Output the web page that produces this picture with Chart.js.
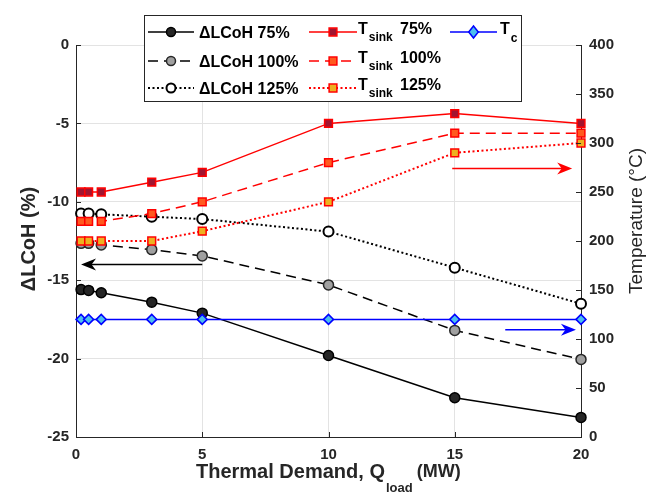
<!DOCTYPE html>
<html>
<head>
<meta charset="utf-8">
<script src="https://cdn.jsdelivr.net/npm/chart.js@4/dist/chart.umd.min.js"></script>
<style>
html,body{margin:0;padding:0;background:#fff;}
#wrap{width:655px;height:494px;position:relative;}
</style>
</head>
<body>
<div id="wrap"><canvas id="c" width="655" height="494"></canvas></div>
<script>
// ---- data ----
const xLoad = [0.2, 0.5, 1, 3, 5, 10, 15, 20];
const dLCoH75  = [-15.6, -15.65, -15.8, -16.4, -17.1, -19.8, -22.5, -23.75];
const dLCoH100 = [-12.65, -12.65, -12.75, -13.05, -13.45, -15.3, -18.2, -20.05];
const dLCoH125 = [-10.75, -10.75, -10.8, -10.95, -11.1, -11.9, -14.2, -16.5];
const tSink75  = [250, 250, 250, 260, 270, 320, 330, 320];
const tSink100 = [220, 220, 220, 228, 240, 280, 310, 310];
const tSink125 = [200, 200, 200, 200, 210, 240, 290, 300];
const tC       = [120, 120, 120, 120, 120, 120, 120, 120];
const xTicks = [0, 5, 10, 15, 20];
const yLeftTicks = [0, -5, -10, -15, -20, -25];
const yRightTicks = [0, 50, 100, 150, 200, 250, 300, 350, 400];
// arrows
const arrowAxis  = ['y', 'y1', 'y1'];
const arrowY     = [-14, 274, 109.5];
const arrowXFrom = [5, 14.9, 17];
const arrowXTo   = [0.2, 19.65, 19.8];
const arrowColor = ['#000000', '#ff0000', '#0000ff'];

const pts = (ys) => xLoad.map((x, i) => ({x: x, y: ys[i]}));
const AX = '#262626';
const FONT = 'Liberation Sans, Arial, sans-serif';

const datasets = [
  {label:'T_c', data: pts(tC), yAxisID:'y1', borderColor:'#0000ff', borderWidth:1.5,
   pointStyle:'rectRot', pointRadius:5, pointBackgroundColor:'#4dbeee', pointBorderColor:'#0000ff', pointBorderWidth:1.5},
  {label:'Tsink 75%', data: pts(tSink75), yAxisID:'y1', borderColor:'#ff0000', borderWidth:1.5,
   pointStyle:'rect', pointRadius:5.5, pointBackgroundColor:'#a2142f', pointBorderColor:'#ff0000', pointBorderWidth:1.5},
  {label:'Tsink 100%', data: pts(tSink100), yAxisID:'y1', borderColor:'#ff0000', borderWidth:1.5, borderDash:[10,6],
   pointStyle:'rect', pointRadius:5.5, pointBackgroundColor:'#ff5a1f', pointBorderColor:'#ff0000', pointBorderWidth:1.5},
  {label:'Tsink 125%', data: pts(tSink125), yAxisID:'y1', borderColor:'#ff0000', borderWidth:2, borderDash:[2,2.5],
   pointStyle:'rect', pointRadius:5.5, pointBackgroundColor:'#edb120', pointBorderColor:'#ff0000', pointBorderWidth:1.5},
  {label:'dLCoH 75%', data: pts(dLCoH75), yAxisID:'y', borderColor:'#000000', borderWidth:1.5,
   pointStyle:'circle', pointRadius:5, pointBackgroundColor:'#262626', pointBorderColor:'#000000', pointBorderWidth:1.5},
  {label:'dLCoH 100%', data: pts(dLCoH100), yAxisID:'y', borderColor:'#000000', borderWidth:1.5, borderDash:[10,6],
   pointStyle:'circle', pointRadius:5, pointBackgroundColor:'#a0a0a0', pointBorderColor:'#262626', pointBorderWidth:1.5},
  {label:'dLCoH 125%', data: pts(dLCoH125), yAxisID:'y', borderColor:'#000000', borderWidth:2, borderDash:[2,2.5],
   pointStyle:'circle', pointRadius:5, pointBackgroundColor:'#ffffff', pointBorderColor:'#000000', pointBorderWidth:2}
];
datasets.forEach(d => { d.clip = false; d.tension = 0; d.fill = false; });

function drawMarker(ctx, style, x, y, r, fill, stroke, lw) {
  ctx.save();
  ctx.beginPath();
  if (style === 'circle') ctx.arc(x, y, r, 0, Math.PI*2);
  else if (style === 'rect') { const s = r*Math.SQRT1_2; ctx.rect(x-s, y-s, 2*s, 2*s); }
  else { ctx.moveTo(x, y-r); ctx.lineTo(x+r*0.8, y); ctx.lineTo(x, y+r); ctx.lineTo(x-r*0.8, y); ctx.closePath(); }
  ctx.fillStyle = fill; ctx.fill();
  ctx.lineWidth = lw; ctx.strokeStyle = stroke; ctx.setLineDash([]); ctx.stroke();
  ctx.restore();
}

const extras = {
  id: 'extras',
  afterDraw(chart) {
    const ctx = chart.ctx, ca = chart.chartArea;
    const sx = chart.scales.x;
    ctx.save();
    // inward ticks
    ctx.strokeStyle = AX; ctx.lineWidth = 1;
    ctx.beginPath();
    xTicks.forEach(v => { const p = Math.round(sx.getPixelForValue(v)) + 0.5; ctx.moveTo(p, ca.bottom); ctx.lineTo(p, ca.bottom - 5); });
    yLeftTicks.forEach(v => { const p = Math.round(chart.scales.y.getPixelForValue(v)) + 0.5; ctx.moveTo(ca.left, p); ctx.lineTo(ca.left + 5, p); });
    yRightTicks.forEach(v => { const p = Math.round(chart.scales.y1.getPixelForValue(v)) + 0.5; ctx.moveTo(ca.right, p); ctx.lineTo(ca.right - 5, p); });
    ctx.stroke();

    // arrows
    arrowY.forEach((yv, i) => {
      const ys = chart.scales[arrowAxis[i]];
      const py = ys.getPixelForValue(yv);
      const x0 = sx.getPixelForValue(arrowXFrom[i]), x1 = sx.getPixelForValue(arrowXTo[i]);
      const dir = Math.sign(x1 - x0), hl = 15, hw = 6;
      ctx.strokeStyle = arrowColor[i]; ctx.fillStyle = arrowColor[i]; ctx.lineWidth = 1.5; ctx.setLineDash([]);
      ctx.beginPath(); ctx.moveTo(x0, py); ctx.lineTo(x1 - dir*hl*0.6, py); ctx.stroke();
      ctx.beginPath(); ctx.moveTo(x1, py); ctx.lineTo(x1 - dir*hl, py - hw); ctx.lineTo(x1 - dir*hl*0.7, py); ctx.lineTo(x1 - dir*hl, py + hw); ctx.closePath(); ctx.fill();
    });

    // axis titles
    ctx.fillStyle = AX; ctx.textBaseline = 'alphabetic';
    const big = 'bold 20px ' + FONT, sub = 'bold 13px ' + FONT;
    // x title
    ctx.font = big; const a = 'Thermal Demand, Q', c = ' (MW)';
    const wa = ctx.measureText(a).width, wc = ctx.measureText(c).width;
    ctx.font = sub; const wb = ctx.measureText('load').width;
    let tx = 196;
    ctx.textAlign = 'left';
    ctx.font = big; ctx.fillText(a, tx, 478);
    ctx.font = sub; ctx.fillText('load', tx + wa + 1, 492);
    ctx.font = 'bold 18px ' + FONT; ctx.fillText(c, tx + wa + wb, 477);
    // left title
    ctx.save(); ctx.translate(35, 239); ctx.rotate(-Math.PI/2);
    ctx.textAlign = 'center'; ctx.font = big; ctx.fillText('\u0394LCoH (%)', 0, 0); ctx.restore();
    // right title
    ctx.save(); ctx.translate(642, 221); ctx.rotate(-Math.PI/2);
    ctx.textAlign = 'center'; ctx.font = '19px ' + FONT; ctx.fillText('Temperature (\u00B0C)', 0, 0); ctx.restore();

    // legend
    const L = 144, T = 15, R = 521, B = 101;
    ctx.fillStyle = '#ffffff'; ctx.fillRect(L, T, R - L, B - T);
    ctx.strokeStyle = AX; ctx.lineWidth = 1; ctx.strokeRect(L + 0.5, T + 0.5, R - L, B - T);
    const rows = [32, 61, 88];
    const lf = 'bold 16px ' + FONT, sf = 'bold 12px ' + FONT;
    const entry = (ds, x0, x1, ry) => {
      ctx.save();
      ctx.strokeStyle = ds.borderColor; ctx.lineWidth = ds.borderWidth; ctx.setLineDash(ds.borderDash || []);
      ctx.beginPath(); ctx.moveTo(x0, ry); ctx.lineTo(x1, ry); ctx.stroke();
      ctx.restore();
      const r = ds.pointStyle === 'circle' ? 4.5 : (ds.pointStyle === 'rect' ? 5.5 : 6);
      drawMarker(ctx, ds.pointStyle, (x0 + x1)/2, ry, r, ds.pointBackgroundColor, ds.pointBorderColor, ds.pointBorderWidth);
    };
    const lcoh = [datasets[4], datasets[5], datasets[6]], ts = [datasets[1], datasets[2], datasets[3]];
    const pct = ['75%', '100%', '125%'];
    ctx.textAlign = 'left';
    for (let i = 0; i < 3; i++) {
      const ry = rows[i];
      entry(lcoh[i], 148, 194, ry);
      ctx.fillStyle = '#000'; ctx.font = lf; ctx.fillText('\u0394LCoH ' + pct[i], 199, ry + 6);
      entry(ts[i], 309, 357, ry);
      ctx.fillStyle = '#000'; ctx.font = lf; ctx.fillText('T', 358, ry + 2);
      const wt = ctx.measureText('T').width;
      ctx.font = sf; ctx.fillText('sink', 358 + wt + 1, ry + 9);
      ctx.font = lf; ctx.fillText(pct[i], 400, ry + 2);
    }
    entry(datasets[0], 450, 497, rows[0]);
    ctx.fillStyle = '#000'; ctx.font = lf; ctx.fillText('T', 500, rows[0] + 2);
    const wt2 = ctx.measureText('T').width;
    ctx.font = sf; ctx.fillText('c', 500 + wt2 + 1, rows[0] + 10);
    ctx.restore();
  }
};

const tickFont = {family: FONT, size: 15, weight: 'bold'};
new Chart(document.getElementById('c'), {
  type: 'line',
  data: { datasets: datasets },
  options: {
    responsive: false, animation: false,
    layout: { padding: { top: 45, left: 0, right: 0, bottom: 0 } },
    plugins: { legend: { display: false }, tooltip: { enabled: false } },
    elements: { line: { tension: 0 } },
    scales: {
      x: { type: 'linear', min: 0, max: 20,
           afterBuildTicks: s => { s.ticks = xTicks.map(v => ({value: v})); },
           afterFit: s => { s.height = 57; },
           grid: { color: '#e3e3e3', lineWidth: 1, drawTicks: false },
           border: { color: AX, width: 1 },
           ticks: { color: AX, font: tickFont, padding: 9, maxRotation: 0 } },
      y: { type: 'linear', position: 'left', min: -25, max: 0,
           afterBuildTicks: s => { s.ticks = yLeftTicks.slice().reverse().map(v => ({value: v})); },
           afterFit: s => { s.width = 76; },
           grid: { color: '#e3e3e3', lineWidth: 1, drawTicks: false },
           border: { color: AX, width: 1 },
           ticks: { color: AX, font: tickFont, padding: 7 } },
      y1: { type: 'linear', position: 'right', min: 0, max: 400,
           afterBuildTicks: s => { s.ticks = yRightTicks.map(v => ({value: v})); },
           afterFit: s => { s.width = 74; },
           grid: { drawOnChartArea: false, drawTicks: false },
           border: { color: AX, width: 1 },
           ticks: { color: AX, font: tickFont, padding: 8 } }
    }
  },
  plugins: [extras]
});
</script>
</body>
</html>
